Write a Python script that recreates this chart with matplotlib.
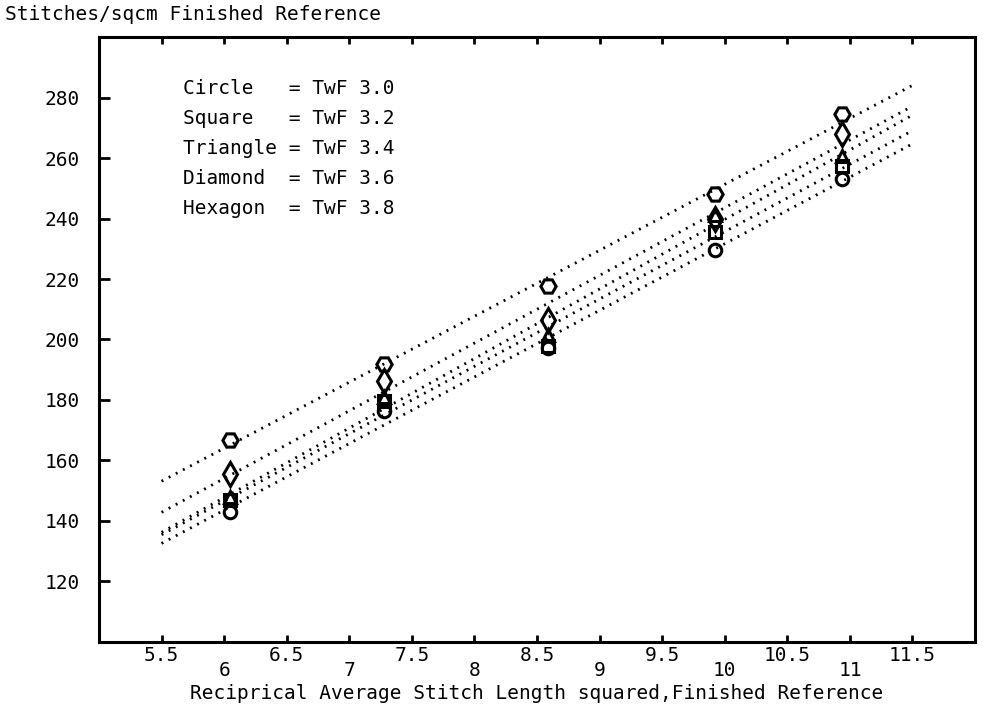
import numpy as np
import matplotlib.pyplot as plt

# reciprocal average stitch length squared (finished reference)
x_vals = [6.05, 7.28, 8.59, 9.92, 10.94]

# stitches/sqcm for each TwF series
names = ['Circle', 'Square', 'Triangle', 'Diamond', 'Hexagon']
twf = [3.0, 3.2, 3.4, 3.6, 3.8]
circle_y = [142.8, 176.4, 197.3, 229.6, 253.2]
square_y = [147.0, 179.5, 198.0, 235.5, 257.5]
triangle_y = [148.0, 181.0, 201.6, 241.1, 260.8]
diamond_y = [155.4, 186.3, 206.6, 240.0, 268.0]
hexagon_y = [166.9, 191.8, 217.7, 248.2, 274.5]

fit_x = [5.5, 11.5]  # extent of the regression lines
x_half_ticks = [5.5, 6.5, 7.5, 8.5, 9.5, 10.5, 11.5]
x_int_ticks = [6, 7, 8, 9, 10, 11]
y_ticks = [120, 140, 160, 180, 200, 220, 240, 260, 280]

series = [circle_y, square_y, triangle_y, diamond_y, hexagon_y]
markers = ['o', 's', '^', 'd', 'H']
msizes = [9, 8.5, 9, 12, 11]

mono = 'DejaVu Sans Mono'
fs = 14

fig = plt.figure(figsize=(9.84, 7.06), dpi=100)
ax = fig.add_axes([0.1006, 0.0911, 0.8903, 0.8561])

# dotted regression lines
for ys in series:
    k, b = np.polyfit(x_vals, ys, 1)
    xx = np.array(fit_x)
    ax.plot(xx, k * xx + b, color='black', linewidth=2,
            linestyle=(0, (0.7, 2.2)), zorder=2)

# hollow markers
for ys, m, ms in zip(series, markers, msizes):
    ax.plot(x_vals, ys, linestyle='none', marker=m, markersize=ms,
            markerfacecolor='none', markeredgecolor='black',
            markeredgewidth=2.2, zorder=3)

ax.set_xlim(5, 12)
ax.set_ylim(100, 300)

ax.set_yticks(y_ticks)
ax.set_yticklabels([str(v) for v in y_ticks], family=mono, fontsize=fs)
ax.set_xticks(x_half_ticks)
ax.set_xticklabels([str(v) for v in x_half_ticks], family=mono, fontsize=fs)
ax.set_xticks(x_int_ticks, minor=True)
ax.set_xticklabels([str(v) for v in x_int_ticks], minor=True, family=mono, fontsize=fs)

ax.tick_params(axis='y', direction='in', length=8, width=2, pad=14, right=False)
ax.tick_params(axis='x', which='both', direction='in', length=5, width=2, top=True)
ax.tick_params(axis='x', which='major', pad=3)
ax.tick_params(axis='x', which='minor', pad=14)

for sp in ax.spines.values():
    sp.set_linewidth(2.2)

ax.set_xlabel('Reciprical Average Stitch Length squared,Finished Reference',
              family=mono, fontsize=fs, va='center')
ax.xaxis.set_label_coords(0.5, -0.086)
fig.text(0.005, 0.979, 'Stitches/sqcm Finished Reference',
         family=mono, fontsize=fs, va='center', ha='left')

# legend block
for i, (n, t) in enumerate(zip(names, twf)):
    ax.text(0.096, 0.916 - i * 0.05, f'{n:<8} = TwF {t:.1f}',
            transform=ax.transAxes, family=mono, fontsize=fs,
            va='center', ha='left')

fig.savefig('out.png', dpi=100)
